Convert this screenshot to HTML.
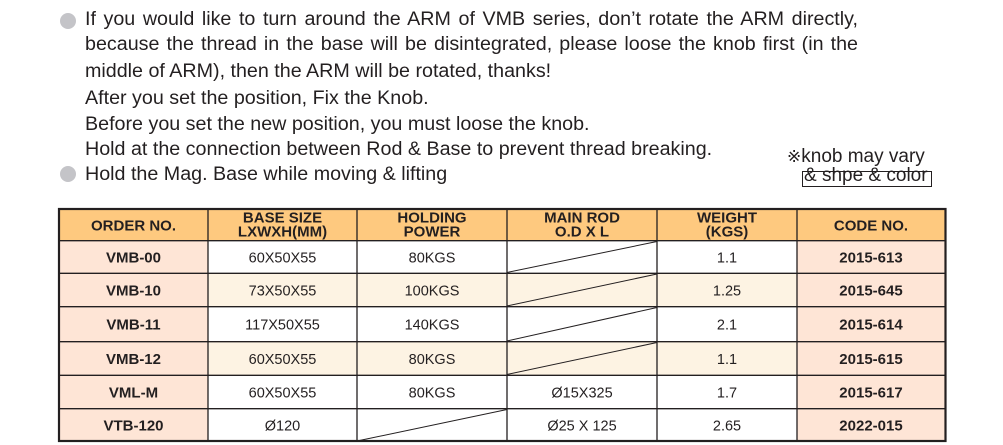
<!DOCTYPE html>
<html><head><meta charset="utf-8"><style>
html,body{margin:0;padding:0;background:#fff;}
body{width:1003px;height:445px;position:relative;overflow:hidden;font-family:"Liberation Sans",Arial,sans-serif;color:#231f20;}
.l{position:absolute;left:85px;font-size:19.7px;line-height:22px;white-space:nowrap;}
.j{width:773px;text-align:justify;text-align-last:justify;white-space:normal;}
.b{position:absolute;width:16px;height:16px;border-radius:50%;background:#c4c4c8;left:60px;}
svg{position:absolute;left:0;top:0;}
</style></head><body>
<div class="b" style="top:13px"></div>
<div class="b" style="top:166px"></div>
<div class="l j" style="top:8px">If you would like to turn around the ARM of VMB series, don’t rotate the ARM directly,</div>
<div class="l j" style="top:33px">because the thread in the base will be disintegrated, please loose the knob first (in the</div>
<div class="l" style="top:59.5px">middle of ARM), then the ARM will be rotated, thanks!</div>
<div class="l" style="top:86.5px">After you set the position, Fix the Knob.</div>
<div class="l" style="top:112.5px">Before you set the new position, you must loose the knob.</div>
<div class="l" style="top:138.2px">Hold at the connection between Rod &amp; Base to prevent thread breaking.</div>
<div class="l" style="top:163px">Hold the Mag. Base while moving &amp; lifting</div>
<div style="position:absolute;left:787px;top:145.5px;font-size:19px;line-height:22px;white-space:nowrap;"><span style="font-size:17px;">※</span>knob may vary</div>
<div style="position:absolute;left:802px;top:171px;width:128px;height:14px;border:1px solid #231f20;"></div>
<div style="position:absolute;left:804px;top:164.5px;font-size:19px;line-height:22px;white-space:nowrap;">&amp; shpe &amp; color</div>

<svg width="1003" height="445" viewBox="0 0 1003 445" xmlns="http://www.w3.org/2000/svg" font-family="Liberation Sans, Arial, sans-serif" fill="#231f20">
<rect x="58" y="208" width="888" height="33" fill="#fec97f"/>
<rect x="58" y="240.7" width="888" height="201" fill="#fff"/>
<rect x="208" y="273.3" width="589" height="33.4" fill="#fdf3e3"/>
<rect x="208" y="341.7" width="589" height="33.6" fill="#fdf3e3"/>
<rect x="58" y="240.7" width="150" height="201" fill="#fee5d6"/>
<rect x="797" y="240.7" width="149" height="201" fill="#fee5d6"/>
<g stroke="#231f20" stroke-width="1.3" fill="none">
<line x1="208" y1="208" x2="208" y2="442"/>
<line x1="357" y1="208" x2="357" y2="442"/>
<line x1="507" y1="208" x2="507" y2="442"/>
<line x1="657" y1="208" x2="657" y2="442"/>
<line x1="797" y1="208" x2="797" y2="442"/>
<line x1="58" y1="240.7" x2="946" y2="240.7"/>
<line x1="58" y1="273.3" x2="946" y2="273.3"/>
<line x1="58" y1="306.7" x2="946" y2="306.7"/>
<line x1="58" y1="341.7" x2="946" y2="341.7"/>
<line x1="58" y1="375.3" x2="946" y2="375.3"/>
<line x1="58" y1="408.7" x2="946" y2="408.7"/>
</g>
<g stroke="#231f20" stroke-width="1" fill="none">
<line x1="507" y1="272.5" x2="657" y2="241.5"/>
<line x1="507" y1="306" x2="657" y2="274"/>
<line x1="507" y1="341" x2="657" y2="307.5"/>
<line x1="507" y1="374.5" x2="657" y2="342.5"/>
<line x1="357" y1="441" x2="507" y2="409.5"/>
</g>
<rect x="59" y="209" width="886.5" height="232" fill="none" stroke="#231f20" stroke-width="2.2"/>
<g font-weight="bold" font-size="15" text-anchor="middle">
<text x="133.5" y="230.7">ORDER NO.</text>
<text x="282.5" y="222.7">BASE SIZE</text>
<text x="282.5" y="236.5">LXWXH(MM)</text>
<text x="432" y="222.7">HOLDING</text>
<text x="432" y="236.5">POWER</text>
<text x="582" y="222.7">MAIN ROD</text>
<text x="582" y="236.5">O.D X L</text>
<text x="727" y="222.7">WEIGHT</text>
<text x="727" y="236.5">(KGS)</text>
<text x="871" y="230.7">CODE NO.</text>
</g>
<g font-weight="bold" font-size="15" text-anchor="middle">
<text x="133.5" y="262.5">VMB-00</text>
<text x="133.5" y="295.5">VMB-10</text>
<text x="133.5" y="329.5">VMB-11</text>
<text x="133.5" y="364">VMB-12</text>
<text x="133.5" y="397.5">VML-M</text>
<text x="133.5" y="430.5">VTB-120</text>
<text x="871" y="262.5">2015-613</text>
<text x="871" y="295.5">2015-645</text>
<text x="871" y="329.5">2015-614</text>
<text x="871" y="364">2015-615</text>
<text x="871" y="397.5">2015-617</text>
<text x="871" y="430.5">2022-015</text>
</g>
<g font-size="14.5" text-anchor="middle">
<text x="282.5" y="262.5">60X50X55</text>
<text x="282.5" y="295.5">73X50X55</text>
<text x="282.5" y="329.5">117X50X55</text>
<text x="282.5" y="364">60X50X55</text>
<text x="282.5" y="397.5">60X50X55</text>
<text x="282.5" y="430.5">Ø120</text>
<text x="432" y="262.5">80KGS</text>
<text x="432" y="295.5">100KGS</text>
<text x="432" y="329.5">140KGS</text>
<text x="432" y="364">80KGS</text>
<text x="432" y="397.5">80KGS</text>
<text x="582" y="397.5">Ø15X325</text>
<text x="582" y="430.5">Ø25 X 125</text>
<text x="727" y="262.5">1.1</text>
<text x="727" y="295.5">1.25</text>
<text x="727" y="329.5">2.1</text>
<text x="727" y="364">1.1</text>
<text x="727" y="397.5">1.7</text>
<text x="727" y="430.5">2.65</text>
</g>
</svg>
</body></html>
